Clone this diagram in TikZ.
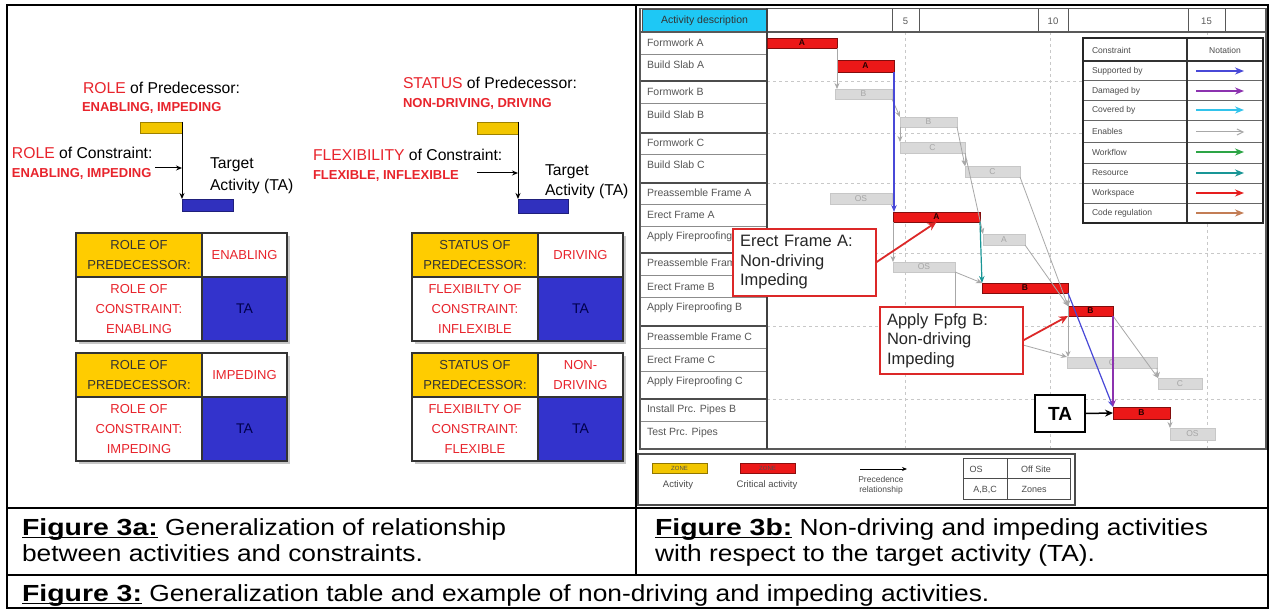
\documentclass[tikz,border=0pt]{standalone}
\usepackage{fontspec}
\setmainfont{Liberation Sans}
\newfontfamily\capfont[FakeStretch=1.13, BoldFeatures={FakeStretch=1.22}]{Liberation Sans}
\usetikzlibrary{arrows.meta}

\definecolor{lblred}{RGB}{232,36,44}
\definecolor{goldfill}{RGB}{255,204,0}
\definecolor{tablue}{RGB}{51,51,204}
\definecolor{barblue}{RGB}{48,48,190}
\definecolor{baryellow}{RGB}{242,198,0}
\definecolor{hdrcyan}{RGB}{30,200,245}
\definecolor{critred}{RGB}{236,24,24}
\definecolor{lightbar}{RGB}{217,217,217}
\definecolor{enabgray}{RGB}{168,168,168}
\definecolor{gridgray}{RGB}{200,200,200}
\definecolor{rowtext}{RGB}{85,85,85}
\definecolor{suppblue}{RGB}{72,72,215}
\definecolor{dampurple}{RGB}{140,50,175}
\definecolor{covcyan}{RGB}{50,195,235}
\definecolor{wfgreen}{RGB}{45,165,70}
\definecolor{resteal}{RGB}{25,150,150}
\definecolor{wsred}{RGB}{230,30,30}
\definecolor{codebrown}{RGB}{195,125,85}
\definecolor{calloutred}{RGB}{220,40,40}

\newcommand{\setfs}[2]{\fontsize{#1}{#2}\selectfont}
% bold caption label with a Word-style underline
\newcommand{\capul}[1]{\setbox0\hbox{\bfseries #1}\rlap{\rule[-2.4pt]{\wd0}{1.5pt}}\box0\relax}
% Gantt bar from (x1,y1) to (x2,y2)
\newcommand{\ganttbar}[7]{%
  \node[#6, minimum width={#4-#2}, minimum height={#5-#3}] (#1) at ({(#2+#4)/2},{(#3+#5)/2}) {#7};}
% 2x2 generalization table
\newcommand{\gentable}[6]{%
  \fill[black!22] (#2+3,#3+3) rectangle (#2+214,#3+111);
  \node[cellY] (#1a) at (#2,#3) {#4};
  \node[cellW, text=lblred] (#1b) at (#2+126,#3) {#5};
  \node[cellW2, text=lblred] (#1c) at (#2,#3+44) {#6};
  \node[cellB] (#1d) at (#2+126,#3+44) {TA};}

\begin{document}
\begin{tikzpicture}[x=1pt,y=-1pt,
  every node/.style={inner sep=0pt, outer sep=0pt},
  captxt/.style={anchor=base west, font=\capfont\setfs{23.3}{25.7}},
  lbl/.style={anchor=base west, font=\setfs{15.7}{19}},
  lblbold/.style={anchor=base west, font=\setfs{13}{15}\bfseries, text=lblred},
  actyellow/.style={draw=baryellow!65!black, fill=baryellow, line width=0.8, anchor=north west},
  actblue/.style={draw=barblue!65!black, fill=barblue, line width=0.8, anchor=north west},
  linkarrow/.style={line width=1, -{Stealth[length=6pt,width=5pt]}},
  cellbase/.style={draw=black!80, line width=1.4, anchor=north west, align=center, font=\setfs{13}{20}},
  cellY/.style={cellbase, fill=goldfill, minimum width=126, minimum height=44, text=black!80},
  cellW/.style={cellbase, fill=white, minimum width=85, minimum height=44},
  cellW2/.style={cellbase, fill=white, minimum width=126, minimum height=64},
  cellB/.style={cellbase, fill=tablue, minimum width=85, minimum height=64, text=black!70!blue, font=\setfs{14}{16}},
  rowlbl/.style={anchor=west, font=\setfs{10.5}{11}, text=rowtext},
  critbar/.style={fill=critred, draw=critred!55!black, line width=0.6, text=black!85!red, font=\setfs{8.5}{9}\bfseries},
  greybar/.style={fill=lightbar, draw=black!22, line width=0.4, text=black!35, font=\setfs{8.5}{9}},
  enab/.style={draw=enabgray, line width=0.8, -{Stealth[length=6pt,width=5pt]}},
  constr/.style={line width=1.2, -{Stealth[length=7pt,width=5.5pt]}},
  calloutbox/.style={draw=calloutred, line width=2.5, fill=white, anchor=north west, align=left,
    text width=129, inner xsep=7, font=\setfs{16.5}{19.5}, text=black!85},
  calloutarrow/.style={draw=calloutred, line width=1.8, -{Stealth[length=9pt,width=8pt]}},
  smalltxt/.style={font=\setfs{8.5}{10}, text=black!70},
]
\useasboundingbox (0,0) rectangle (1270,609);
\fill[white] (0,0) rectangle (1270,609);

% ---------- outer frame and caption rows ----------
\draw[line width=2] (7,5.5) rectangle (1268,608);
\draw[line width=2] (635.5,5.5) -- (635.5,574.5);
\draw[line width=2] (7,508) -- (1268,508);
\draw[line width=2] (7,574.5) -- (1268,574.5);

\node[captxt] (cap3a1) at (22,536) {\capul{Figure 3a:} Generalization of relationship};
\node[captxt] (cap3a2) at (22,561.7) {between activities and constraints.};
\node[captxt] (cap3b1) at (655,536) {\capul{Figure 3b:} Non-driving and impeding activities};
\node[captxt] (cap3b2) at (655,561.7) {with respect to the target activity (TA).};
\node[captxt] (cap3) at (22,601.7) {\capul{Figure 3:} Generalization table and example of non-driving and impeding activities.};

% ---------- role diagram ----------
\node[lbl] (role1) at (83,93.5) {\textcolor{lblred}{ROLE} of Predecessor:};
\node[lblbold] (role1v) at (82,111.5) {ENABLING, IMPEDING};
\node[actyellow, minimum width=42, minimum height=11] (ya) at (140,122) {};
\node[actblue, minimum width=51, minimum height=12] (ba) at (182,199) {};
\draw[linkarrow] (ya.north east) -- (ya.north east |- ba.north);
\node[lbl] (con1) at (12,158.5) {\textcolor{lblred}{ROLE} of Constraint:};
\node[lblbold] (con1v) at (12,178) {ENABLING, IMPEDING};
\coordinate (con1tail) at (155,168);
\draw[linkarrow] (con1tail) -- (con1tail -| ya.east);
\node[lbl] (ta1a) at (210,168.5) {Target};
\node[lbl] (ta1b) at (210,190.5) {Activity (TA)};

% ---------- status diagram ----------
\node[lbl] (stat2) at (403,88.5) {\textcolor{lblred}{STATUS} of Predecessor:};
\node[lblbold] (stat2v) at (403,107.5) {NON-DRIVING, DRIVING};
\node[actyellow, minimum width=41, minimum height=12] (yb) at (477,122) {};
\node[actblue, minimum width=50, minimum height=14] (bb) at (518,199) {};
\draw[linkarrow] (yb.north east) -- (yb.north east |- bb.north);
\node[lbl] (flex2) at (313,160.5) {\textcolor{lblred}{FLEXIBILITY} of Constraint:};
\node[lblbold] (flex2v) at (313,180) {FLEXIBLE, INFLEXIBLE};
\coordinate (flex2tail) at (477,173);
\draw[linkarrow] (flex2tail) -- (flex2tail -| yb.east);
\node[lbl] (ta2a) at (545,175.5) {Target};
\node[lbl] (ta2b) at (545,195.5) {Activity (TA)};

% ---------- generalization tables ----------
\gentable{ta}{76}{233}{ROLE OF\\PREDECESSOR:}{ENABLING}{ROLE OF\\CONSTRAINT:\\ENABLING}
\gentable{tb}{76}{353}{ROLE OF\\PREDECESSOR:}{IMPEDING}{ROLE OF\\CONSTRAINT:\\IMPEDING}
\gentable{tc}{412}{233}{STATUS OF\\PREDECESSOR:}{DRIVING}{FLEXIBILTY OF\\CONSTRAINT:\\INFLEXIBLE}
\gentable{td}{412}{353}{STATUS OF\\PREDECESSOR:}{NON-\\DRIVING}{FLEXIBILTY OF\\CONSTRAINT:\\FLEXIBLE}

% ---------- Gantt chart ----------
% dashed time grid
\foreach \gx in {905,1050,1207}
  \draw[gridgray, dashed, line width=0.6] (\gx,32) -- (\gx,449);
\foreach \gy in {81,133,183,253,326,399}
  \draw[gridgray, dashed, line width=0.6] (767,\gy) -- (1266,\gy);

% header row
\node[draw=black!70, line width=1, fill=hdrcyan, minimum width=125, minimum height=22, anchor=north west,
  font=\setfs{10.5}{11}, text=black!80] (hdr) at (642,10) {Activity description};
\foreach \hx in {892,919,1038,1068,1188,1225}
  \draw[black!65, line width=1] (\hx,9) -- (\hx,32);
\node[font=\setfs{9.5}{10}, text=black!65] (day5) at (905.5,21) {5};
\node[font=\setfs{9.5}{10}, text=black!65] (day10) at (1053,21) {10};
\node[font=\setfs{9.5}{10}, text=black!65] (day15) at (1206.5,21) {15};

% activity rows
\foreach \ry in {54,103,154,204,226,275,297,348,371,421}
  \draw[black!45, line width=0.8] (640,\ry) -- (767,\ry);
\foreach \ry in {81,133,183,253,326,399}
  \draw[black!70, line width=1.8] (640,\ry) -- (767,\ry);
\begin{scope}
  % labels run under the first callout box
  \clip (640,8) rectangle (767,229) (640,229) rectangle (731,296) (640,296) rectangle (767,449);
  \foreach \yy/\txt [count=\i] in {43/Formwork A, 65/Build Slab A, 92/Formwork B, 115/Build Slab B,
      143/Formwork C, 165/Build Slab C, 193/Preassemble Frame A, 215/Erect Frame A,
      237/Apply Fireproofing A, 263/Preassemble Frame B, 287/Erect Frame B, 308/Apply Fireproofing B,
      337/Preassemble Frame C, 360/Erect Frame C, 382/Apply Fireproofing C, 410/Install Prc. Pipes B,
      433/Test Prc. Pipes}
    \node[rowlbl] (row\i) at (647,\yy) {\txt};
\end{scope}

\draw[black!65, line width=1.5] (640,8.5) rectangle (1266,449);
\draw[black!65, line width=1.5] (640,32) -- (1266,32);
\draw[black!75, line width=1.8] (767,8.5) -- (767,449);

% bars
\ganttbar{fa}{767}{38}{837}{48}{critbar}{A}
\ganttbar{bsa}{837}{60}{894}{72}{critbar}{A}
\ganttbar{fb}{835}{89}{892}{99}{greybar}{B}
\ganttbar{bsb}{900}{117}{957}{127}{greybar}{B}
\ganttbar{fc}{900}{142}{965}{153}{greybar}{C}
\ganttbar{bsc}{965}{166}{1020}{177}{greybar}{C}
\ganttbar{pfa}{830}{193}{892}{204}{greybar}{OS}
\ganttbar{efa}{893}{212}{980}{222}{critbar}{A}
\ganttbar{afa}{983}{234}{1025}{245}{greybar}{A}
\ganttbar{pfb}{893}{262}{955}{272}{greybar}{OS}
\ganttbar{efb}{982}{283}{1068}{293}{critbar}{B}
\ganttbar{afb}{1068}{306}{1113}{316}{critbar}{B}
\ganttbar{pfc}{955}{332}{1012}{342}{greybar}{OS}
\ganttbar{efc}{1067}{357}{1157}{368}{greybar}{C}
\ganttbar{afc}{1158}{378}{1202}{389}{greybar}{C}
\ganttbar{ipb}{1113}{407}{1170}{419}{critbar}{B}
\ganttbar{tpp}{1170}{428}{1215}{440}{greybar}{OS}

% enabling links
\draw[enab] (fa.south east) -- (fa.south east |- fb.north);
\draw[enab] (fb.south east) -- (bsb.north west);
\draw[enab] (bsb.south west) -- (fc.north west);
\draw[enab] (bsb.south east) -- (bsc.north west);
\draw[enab] (fc.south east) -- (bsc.north west);
\draw[enab] (fc.south east) -- (afa.north west);
\draw[enab] (bsc.south east) -- (afb.north west);
\draw[enab] (afa.south east) -- (afb.north west);
\draw[enab] (efa.south west) -- (efa.south west |- pfb.north);
\draw[enab] (pfb.south east) -- (efb.north west);
\draw[enab] (pfb.south east) -- (pfb.south east |- pfc.north);
\draw[enab] (pfc.south east) -- (efc.north west);
\draw[enab] (efb.south east) -- (efb.south east |- efc.north);
\draw[enab] (efb.south east) -- (afb.north west);
\draw[enab] (afb.south east) -- (afc.north west);
\draw[enab] (efc.south east) -- (afc.north west);
\draw[enab] (ipb.south east) -- (tpp.north west);

% constraint links
\draw[constr, suppblue] (bsa.south east) -- (bsa.south east |- efa.north);
\draw[constr, resteal] (efa.south east) -- (efb.north west);
\draw[constr, suppblue] (efb.south east) -- (ipb.north west);
\draw[constr, dampurple] (afb.south east) -- (afb.south east |- ipb.north);

% callouts
\node[calloutbox, minimum height=67] (c1) at (733,229) {Erect Frame A:\\Non-driving\\Impeding};
\node[calloutbox, minimum height=67] (c2) at (880,307) {Apply Fpfg B:\\Non-driving\\Impeding};
\draw[calloutarrow] (c1.east) -- (efa.south);
\draw[calloutarrow] (c2.east) -- (afb.south west);

% target activity tag
\node[draw=black, line width=2.5, fill=white, minimum width=50, minimum height=37, anchor=north west,
  font=\setfs{19}{20}\bfseries] (ta) at (1035,395) {TA};
\draw[line width=1.5, -{Stealth[length=8pt,width=7pt]}] (ta.east) -- (ipb.west);

% constraint notation table
\fill[white] (1083,38) rectangle (1263,223);
\foreach \ly in {80,100,120,142,163,183,203}
  \draw[black!60, line width=0.9] (1083,\ly) -- (1263,\ly);
\draw[black!80, line width=1.4] (1083,61) -- (1263,61);
\draw[black!80, line width=1.1] (1187,38) -- (1187,223);
\draw[black!85, line width=1.8] (1083,38) rectangle (1263,223);
\node[smalltxt, anchor=west] (lgcon) at (1092,50) {Constraint};
\node[smalltxt] (lgnot) at (1225,50) {Notation};
\foreach \ly/\lt/\lc [count=\j] in {71/Supported by/suppblue, 91/Damaged by/dampurple, 110/Covered by/covcyan,
    152/Workflow/wfgreen, 173/Resource/resteal, 193/Workspace/wsred, 213/Code regulation/codebrown}{
  \node[smalltxt, anchor=west] (lgt\j) at (1092,\ly) {\lt};
  \coordinate (lgs\j) at (1196,\ly);
  \coordinate (lge\j) at (1244,\ly);
  \draw[draw=\lc, line width=1.6, -{Stealth[length=9pt,width=7pt]}] (lgs\j) -- (lge\j);
}
\node[smalltxt, anchor=west] (lgten) at (1092,131) {Enables};
\coordinate (lgsen) at (1196,132);
\coordinate (lgeen) at (1244,132);
\draw[draw=enabgray, line width=1, -{Straight Barb[length=6pt,width=6pt]}] (lgsen) -- (lgeen);

% bar legend
\draw[black!70, line width=1.6] (638,454) rectangle (1075,505);
\node[draw=baryellow!60!black, fill=baryellow, line width=0.6, minimum width=55, minimum height=10,
  font=\setfs{6}{6}, text=black!70] (lgact) at (679.5,468) {ZONE};
\node[smalltxt, font=\setfs{9.5}{10}] (lgactt) at (678,485) {Activity};
\node[draw=critred!60!black, fill=critred, line width=0.6, minimum width=55, minimum height=10,
  font=\setfs{6}{6}, text=black!70] (lgcrit) at (767.5,468) {ZONE};
\node[smalltxt, font=\setfs{9.5}{10}] (lgcritt) at (767,485) {Critical activity};
\coordinate (lgpa) at (860,469);
\coordinate (lgpb) at (907,469);
\draw[line width=0.8, -{Stealth[length=5pt,width=4pt]}] (lgpa) -- (lgpb);
\node[smalltxt, font=\setfs{8.5}{10}, align=center] (lgprec) at (881,485) {Precedence\\relationship};
\draw[black!70, line width=1] (963,459) rectangle (1070,500);
\draw[black!70, line width=0.8] (1007,459) -- (1007,500);
\draw[black!70, line width=0.8] (963,478.5) -- (1070,478.5);
\node[smalltxt, font=\setfs{9}{10}] (lgos) at (976,469) {OS};
\node[smalltxt, font=\setfs{9}{10}] (lgoff) at (1036,469) {Off Site};
\node[smalltxt, font=\setfs{9}{10}] (lgabc) at (985,489.5) {A,B,C};
\node[smalltxt, font=\setfs{9}{10}] (lgzones) at (1034,489.5) {Zones};
\end{tikzpicture}
\end{document}
